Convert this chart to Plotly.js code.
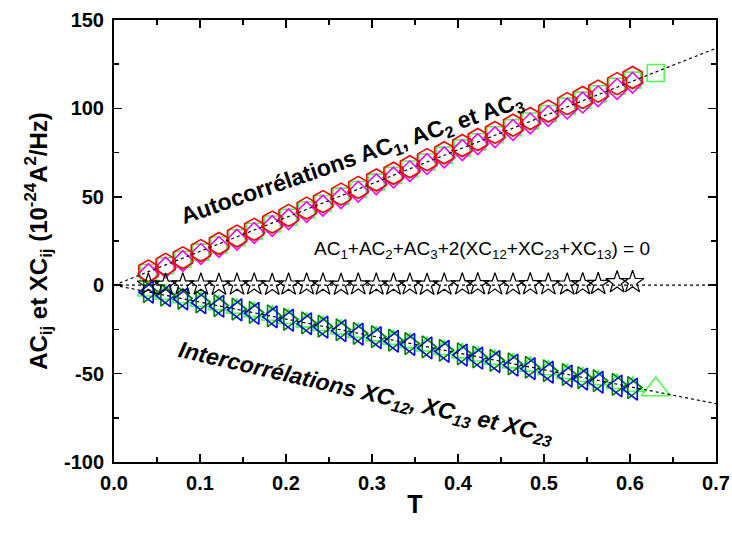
<!DOCTYPE html>
<html>
<head>
<meta charset="utf-8">
<script src="https://cdn.plot.ly/plotly-3.0.1.min.js"></script>
<style>html,body{margin:0;padding:0;background:#fff}#chart{width:732px;height:536px}</style>
</head>
<body>
<div id="chart"></div>
<script>
// ---- data ----
const T = [0.040,0.060,0.080,0.101,0.122,0.143,0.163,0.184,0.203,0.224,0.243,0.264,0.284,0.305,0.325,0.344,0.364,0.384,0.405,0.423,0.443,0.464,0.484,0.505,0.527,0.545,0.563,0.585,0.603];
const T_ext = [0.040,0.060,0.080,0.101,0.122,0.143,0.163,0.184,0.203,0.224,0.243,0.264,0.284,0.305,0.325,0.344,0.364,0.384,0.405,0.423,0.443,0.464,0.484,0.505,0.527,0.545,0.563,0.585,0.603,0.630];

const AC1 = [8.0,11.8,15.5,19.6,23.6,27.8,31.6,35.7,39.5,43.6,47.3,51.5,55.3,59.5,63.3,67.0,71.0,74.9,79.0,82.4,86.4,90.5,94.3,98.5,102.7,106.2,109.8,114.0,117.5];
const AC2 = [6.3,10.0,13.7,17.7,21.6,25.7,29.5,33.5,37.3,41.4,45.0,49.2,52.9,57.1,60.9,64.5,68.5,72.3,76.4,79.8,83.7,87.8,91.5,95.7,99.9,103.3,106.9,111.0,114.5];
const AC3 = [7.2,11.0,14.6,18.7,22.7,26.8,30.5,34.6,38.4,42.5,46.2,50.4,54.1,58.3,62.1,65.7,69.7,73.6,77.7,81.1,85.1,89.1,92.9,97.1,101.3,104.7,108.3,112.5,116.0,120.0];

const XC12 = [-4.0,-5.9,-7.8,-9.9,-11.9,-13.9,-15.9,-17.9,-19.8,-21.8,-23.7,-25.7,-27.7,-29.7,-31.7,-33.5,-35.5,-37.4,-39.5,-41.2,-43.2,-45.2,-47.2,-49.2,-51.4,-53.1,-54.9,-57.0,-58.8];
const XC13 = [-3.6,-5.6,-7.4,-9.5,-11.5,-13.5,-15.4,-17.4,-19.3,-21.3,-23.2,-25.2,-27.2,-29.1,-31.1,-33.0,-34.9,-36.8,-38.8,-40.6,-42.5,-44.5,-46.4,-48.4,-50.5,-52.3,-54.0,-56.1,-57.9];
const XC23 = [-3.4,-5.3,-7.2,-9.2,-11.2,-13.2,-15.1,-17.1,-19.0,-21.0,-22.9,-24.9,-26.8,-28.8,-30.7,-32.6,-34.5,-36.5,-38.4,-40.2,-42.1,-44.1,-46.0,-48.0,-50.1,-51.8,-53.6,-55.7,-57.4,-59.0];

const SUM = [0.3,0.2,0.4,0.3,0.2,0.3,0.4,0.2,0.3,0.4,0.3,0.2,0.4,0.3,0.3,0.4,0.2,0.3,0.4,0.5,0.4,0.3,0.5,0.4,0.3,0.5,0.6,1.6,1.7];

const fitX = [0.0, 0.7];
const fitAC = [0.0, 134.0];
const fitZero = [0.0, 0.0];
const fitXC = [0.0, -67.0];

const xTicks = [0.0,0.1,0.2,0.3,0.4,0.5,0.6,0.7];
const yTicks = [-100,-50,0,50,100,150];

// ---- drawing ----
function mk(x, y, sym, col, size, w) {
  return {x: x, y: y, type: 'scatter', mode: 'markers', showlegend: false, hoverinfo: 'skip',
    marker: {symbol: sym, size: size, color: col, line: {color: col, width: w || 1.6}}};
}
function fit(y) {
  return {x: fitX, y: y, type: 'scatter', mode: 'lines', showlegend: false, hoverinfo: 'skip',
    line: {color: '#000', width: 1.2, dash: 'dot'}};
}
const limeSizes = XC23.map((v, i) => i === XC23.length - 1 ? 25 : 19);
const squareSizes = AC3.map((v, i) => i === AC3.length - 1 ? 17 : 16);

const data = [
  mk(T_ext, AC3, 'square-open', '#00FF00', squareSizes),
  mk(T, AC2, 'diamond-open', '#FF00FF', 16),
  mk(T, AC1, 'hexagon-open', '#FF0000', 22),
  mk(T_ext, XC23, 'triangle-up-open', '#00FF00', limeSizes),
  mk(T, XC13, 'triangle-right-open', '#008000', 19),
  mk(T, XC12, 'triangle-left-open', '#0000FF', 19),
  mk(T, SUM, 'star-open', '#000000', 17, 1.2),
  fit(fitAC), fit(fitZero), fit(fitXC)
];

const F = 'Arial, "Liberation Sans", sans-serif';
const axisCommon = {
  showgrid: false, zeroline: false, showline: true, linecolor: '#000', linewidth: 2,
  mirror: 'ticks', ticks: 'inside', ticklen: 8, tickwidth: 1.5, tickcolor: '#000',
  ticklabelstandoff: 4,
  tickfont: {family: F, size: 20, color: '#000', weight: 'bold'}
};

const layout = {
  width: 732, height: 536,
  margin: {l: 114, r: 16, t: 20, b: 74},
  paper_bgcolor: '#fff', plot_bgcolor: '#fff',
  xaxis: Object.assign({}, axisCommon, {
    range: [0, 0.7], tickvals: xTicks, ticktext: xTicks.map(v => v.toFixed(1)),
    ticklabelstandoff: 2,
    minor: {dtick: 0.05, tick0: 0, ticks: 'inside', ticklen: 5, tickwidth: 1.5, tickcolor: '#000'},
    title: {text: 'T', font: {family: F, size: 25, color: '#000', weight: 'bold'}, standoff: 2}
  }),
  yaxis: Object.assign({}, axisCommon, {
    range: [-100, 150], tickvals: yTicks, ticktext: yTicks.map(String),
    minor: {dtick: 25, tick0: 0, ticks: 'inside', ticklen: 5, tickwidth: 1.5, tickcolor: '#000'},
    title: {text: 'AC<sub>ij</sub> et XC<sub>ij</sub> (10<sup>-24</sup>A<sup>2</sup>/Hz)',
            font: {family: F, size: 24, color: '#000', weight: 'bold'}, standoff: 10}
  }),
  annotations: [
    {text: 'Autocorrélations AC<sub>1</sub>, AC<sub>2</sub> et AC<sub>3</sub>', x: 0.277, y: 71, xref: 'x', yref: 'y',
     showarrow: false, textangle: -19, font: {family: F, size: 23, color: '#000', weight: 'bold'}},
    {text: 'AC<sub>1</sub>+AC<sub>2</sub>+AC<sub>3</sub>+2(XC<sub>12</sub>+XC<sub>23</sub>+XC<sub>13</sub>) = 0', x: 0.428, y: 20, xref: 'x', yref: 'y',
     showarrow: false, font: {family: F, size: 19, color: '#000'}},
    {text: '<i>Intercorrélations XC<sub>12</sub>, XC<sub>13</sub> et XC<sub>23</sub></i>', x: 0.293, y: -61, xref: 'x', yref: 'y',
     showarrow: false, textangle: 13, font: {family: F, size: 23, color: '#000', weight: 'bold'}}
  ]
};

Plotly.newPlot('chart', data, layout, {staticPlot: true, displayModeBar: false});
</script>
</body>
</html>
